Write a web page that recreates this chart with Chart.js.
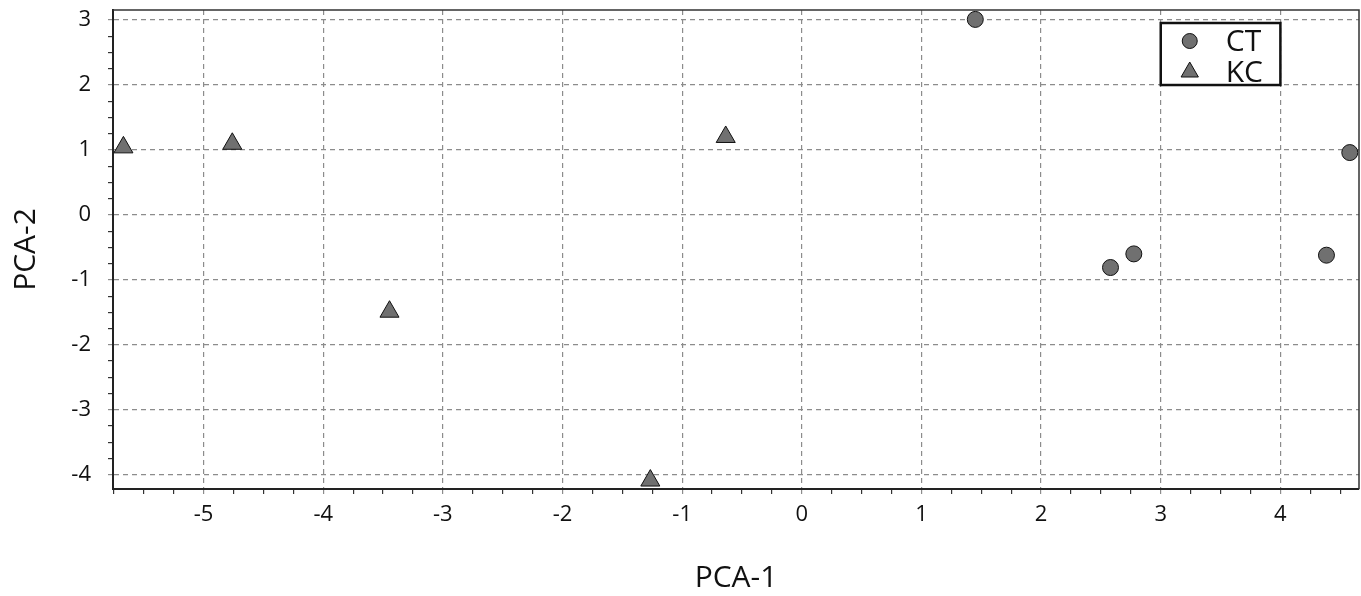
<!DOCTYPE html>
<html>
<head>
<meta charset="utf-8">
<script src="https://cdn.jsdelivr.net/npm/chart.js@4/dist/chart.umd.min.js"></script>
<style>
  html, body { margin: 0; padding: 0; background: #fff; }
  #wrap { width: 1361px; height: 596px; position: relative; }
</style>
</head>
<body>
<div id="wrap"><canvas id="c" width="1361" height="596"></canvas></div>
<script>
// ---- data ----
const seriesNames = ['CT', 'KC'];
const ctX = [1.45, 4.58, 2.58, 2.775, 4.385];
const ctY = [3.01, 0.96, -0.81, -0.60, -0.62];
const kcX = [-5.67, -4.76, -0.636, -3.446, -1.266];
const kcY = [1.04, 1.095, 1.20, -1.49, -4.09];
const xTickLabels = [-5, -4, -3, -2, -1, 0, 1, 2, 3, 4];
const yTickLabels = [-4, -3, -2, -1, 0, 1, 2, 3];
const xRange = [-5.757, 4.657];
const yRange = [-4.22, 3.155];
const minorStep = 0.25;
const xTitle = 'PCA-1';
const yTitle = 'PCA-2';

const FONT = "'Open Sans', 'Noto Sans', sans-serif";
const MARK_FILL = '#707070';
const GRID = '#8c8c8c';

function pts(xs, ys) { return xs.map((x, i) => ({ x: x, y: ys[i] })); }
function isMajor(v, labels) { return labels.some(l => Math.abs(l - v) < 1e-9); }

function tickBuilder(labels) {
  return function (s) {
    const t = [];
    const k0 = Math.ceil(s.min / minorStep - 1e-9), k1 = Math.floor(s.max / minorStep + 1e-9);
    for (let k = k0; k <= k1; k++) t.push({ value: Math.round(k * minorStep * 1000) / 1000 });
    s.ticks = t;
  };
}
function zeroPad(s) {
  s.paddingTop = 0; s.paddingBottom = 0; s.paddingLeft = 0; s.paddingRight = 0;
}

const framePlugin = {
  id: 'frame',
  afterDatasetsDraw(chart) {
    const { ctx, chartArea: a } = chart;
    ctx.save();
    ctx.strokeStyle = '#333';
    ctx.lineWidth = 1.5;
    ctx.beginPath();
    ctx.moveTo(a.left, a.top);
    ctx.lineTo(a.right, a.top);
    ctx.lineTo(a.right, a.bottom);
    ctx.stroke();
    ctx.restore();
  }
};

const legendPlugin = {
  id: 'boxLegend',
  afterDraw(chart) {
    const { ctx } = chart;
    const xs = chart.scales.x, ys = chart.scales.y;
    const left = xs.getPixelForValue(3), right = xs.getPixelForValue(4);
    const bottom = ys.getPixelForValue(2), top = 23;
    ctx.save();
    ctx.fillStyle = '#fff';
    ctx.fillRect(left, top, right - left, bottom - top);
    ctx.lineWidth = 2.5;
    ctx.strokeStyle = '#111';
    ctx.strokeRect(left, top, right - left, bottom - top);
    const rowsY = [41, 72];
    chart.data.datasets.forEach((ds, i) => {
      ctx.fillStyle = ds.backgroundColor;
      ctx.strokeStyle = ds.borderColor;
      ctx.lineWidth = 1;
      Chart.helpers.drawPoint(ctx, {
        pointStyle: ds.pointStyle,
        radius: ds.pointStyle === 'triangle' ? 10 : 7.5,
        borderWidth: 1,
        rotation: 0
      }, left + 29, rowsY[i]);
      ctx.fillStyle = '#111';
      ctx.font = '30px ' + FONT;
      ctx.textBaseline = 'middle';
      ctx.textAlign = 'left';
      ctx.fillText(ds.label, left + 65, rowsY[i] + 1);
    });
    ctx.restore();
  }
};

function axis(range, labels, isX) {
  return {
    type: 'linear',
    min: range[0],
    max: range[1],
    afterBuildTicks: tickBuilder(labels),
    afterFit(s) {
      zeroPad(s);
      if (isX) s.height = 107; else s.width = 113;
    },
    border: { display: true, color: '#222', width: 2, dash: [5, 4] },
    grid: {
      color: c => isMajor(c.tick.value, labels) ? GRID : 'rgba(0,0,0,0)',
      tickColor: c => isMajor(c.tick.value, labels) ? GRID : '#333',
      lineWidth: 1.2,
      tickLength: 5,
      drawTicks: true
    },
    ticks: {
      autoSkip: false,
      maxRotation: 0,
      padding: isX ? 8 : 17,
      color: '#111',
      font: { family: FONT, size: 22 },
      callback: v => isMajor(v, labels) ? String(Math.round(v)) : ''
    },
    title: {
      display: true,
      text: isX ? xTitle : yTitle,
      color: '#111',
      font: { family: FONT, size: 30 },
      padding: isX ? { top: 0, bottom: 0 } : { top: 8, bottom: 0 }
    }
  };
}

new Chart(document.getElementById('c'), {
  type: 'scatter',
  data: {
    datasets: [
      {
        label: seriesNames[0],
        data: pts(ctX, ctY),
        pointStyle: 'circle',
        pointRadius: 8,
        pointHoverRadius: 8,
        backgroundColor: MARK_FILL,
        borderColor: '#111',
        borderWidth: 1,
        clip: false
      },
      {
        label: seriesNames[1],
        data: pts(kcX, kcY),
        pointStyle: 'triangle',
        pointRadius: 11,
        pointHoverRadius: 11,
        backgroundColor: MARK_FILL,
        borderColor: '#111',
        borderWidth: 1,
        clip: false
      }
    ]
  },
  options: {
    responsive: false,
    animation: false,
    events: [],
    layout: { autoPadding: false, padding: { top: 10, right: 2, left: 0, bottom: 0 } },
    plugins: { legend: { display: false }, tooltip: { enabled: false } },
    scales: {
      x: axis(xRange, xTickLabels, true),
      y: axis(yRange, yTickLabels, false)
    }
  },
  plugins: [framePlugin, legendPlugin]
});
</script>
</body>
</html>
